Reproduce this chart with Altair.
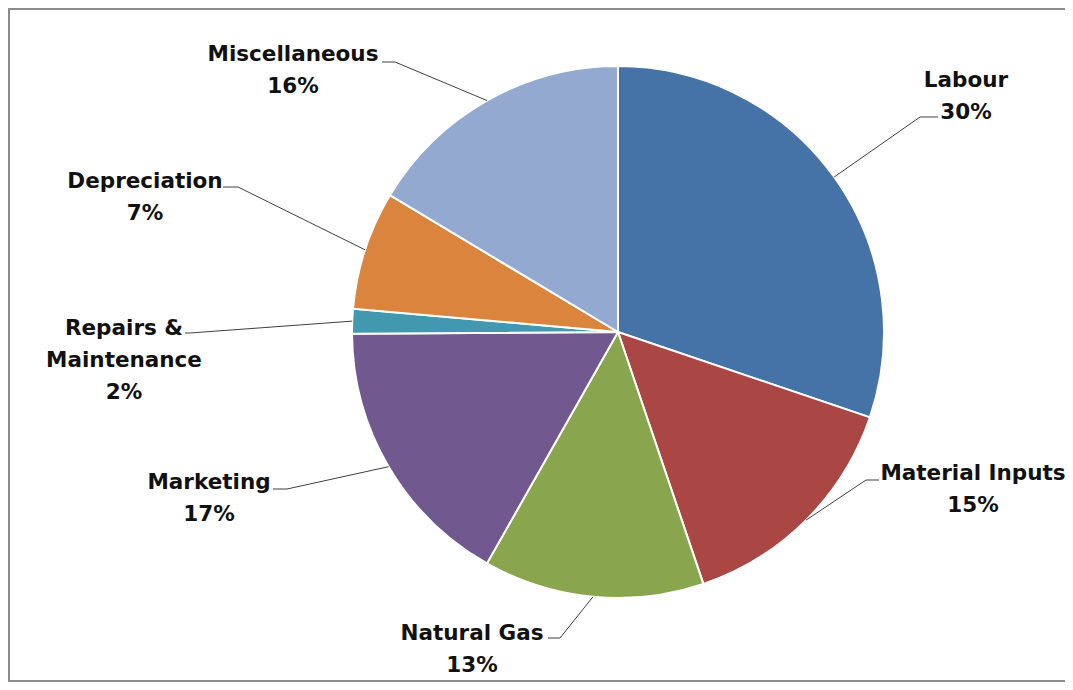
import math
import altair as alt
import pandas as pd

# ---- data ----
categories = ["Labour", "Material Inputs", "Natural Gas", "Marketing",
              "Repairs & Maintenance", "Depreciation", "Miscellaneous"]
label_lines = ["Labour", "Material Inputs", "Natural Gas", "Marketing",
               "Repairs &\nMaintenance", "Depreciation", "Miscellaneous"]
values = [30.2, 14.6, 13.4, 16.7, 1.5, 7.2, 16.4]
colors = ["#4572A7", "#AA4643", "#89A54E", "#71588F", "#4198AF", "#DB843D", "#93A9CF"]

# ---- layout (pixels inside the chart) ----
W, H = 1057, 674
CX, CY, R = 610, 324, 266
OFF = 8
label_anchor = [(966, 79), (973, 472), (472, 632), (209, 481), (124, 327), (145, 180), (293, 53)]
elbow = [(920, 117), (866, 480), (560, 638), (287, 489), (190, 333), (238, 187), (395, 62)]
lend = [(938, 117), (879, 480), (548, 638), (273, 489), (185, 333), (223, 187), (382, 62)]

total = sum(values)
pie = pd.DataFrame({"cat": categories, "value": values, "order": list(range(len(values)))})

# leader lines: start on the pie edge at each slice's mid-angle
rows = []
cum = 0.0
for i, v in enumerate(values):
    mid = (cum + v / 2) / total * 2 * math.pi
    cum += v
    sx = CX + R * math.sin(mid)
    sy = CY - R * math.cos(mid)
    pts = [(sx, sy), (elbow[i][0] - OFF, elbow[i][1] - OFF), (lend[i][0] - OFF, lend[i][1] - OFF)]
    for k, (px, py) in enumerate(pts):
        rows.append({"cat": categories[i], "k": k, "px": px, "py": py})
lines = pd.DataFrame(rows)

labels = pd.DataFrame({
    "cat": categories,
    "txt": [f"{l}\n{round(v)}%" for l, v in zip(label_lines, values)],
    "px": [a[0] - OFF for a in label_anchor],
    "py": [a[1] - OFF + 8 for a in label_anchor],
})

xs = alt.Scale(domain=[0, W], range=[0, W])
ys = alt.Scale(domain=[0, H], range=[0, H])

arcs = alt.Chart(pie).mark_arc(stroke="white", strokeWidth=2, radius=R).encode(
    theta=alt.Theta("value:Q", stack=True),
    order=alt.Order("order:Q"),
    color=alt.Color("cat:N", scale=alt.Scale(domain=categories, range=colors), legend=None),
    x=alt.value(CX), y=alt.value(CY),
)

leaders = alt.Chart(lines).mark_line(color="#404040", strokeWidth=1).encode(
    x=alt.X("px:Q", scale=xs, axis=None),
    y=alt.Y("py:Q", scale=ys, axis=None),
    detail="cat:N",
    order="k:Q",
)

texts = alt.Chart(labels).mark_text(
    font="DejaVu Sans", fontWeight="bold", fontSize=21.5, lineBreak="\n",
    lineHeight=32, align="center", baseline="alphabetic", color="#111111",
).encode(
    x=alt.X("px:Q", scale=xs, axis=None),
    y=alt.Y("py:Q", scale=ys, axis=None),
    text="txt:N",
)

border = pd.DataFrame({"k": [0, 1, 2, 3], "px": [W + 5, 1, 1, W + 5], "py": [1, 1, H - 1, H - 1]})
frame = alt.Chart(border).mark_line(color="#8c8c8c", strokeWidth=2).encode(
    x=alt.X("px:Q", scale=xs, axis=None),
    y=alt.Y("py:Q", scale=ys, axis=None),
    order="k:Q",
)

chart = alt.layer(frame, arcs, leaders, texts).properties(
    width=W, height=H, autosize=alt.AutoSizeParams(type="none"), padding=0,
).configure_view(stroke=None, clip=False)

chart.save("out.html", embed_options={"renderer": "svg", "actions": False})
